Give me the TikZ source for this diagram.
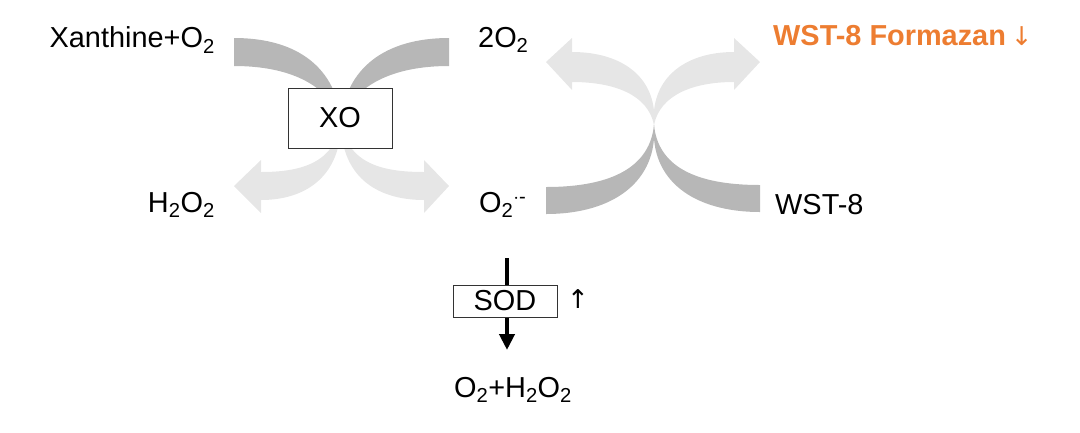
\documentclass[tikz,border=0pt]{standalone}
\usepackage{fontspec}
\setmainfont{Liberation Sans}
\newfontfamily\djv{DejaVu Sans}
\usetikzlibrary{arrows.meta}
\definecolor{dk}{HTML}{B7B7B7}
\definecolor{lt}{HTML}{E6E6E6}
\definecolor{org}{HTML}{ED7D31}
\begin{document}
\begin{tikzpicture}[x=1bp,y=-1bp,
  lbl/.style={font=\fontsize{29}{32}\selectfont,inner sep=0pt},
  box/.style={draw=black!80,fill=white,line width=0.8pt,minimum width=104bp,minimum height=60bp,inner sep=0pt,font=\fontsize{29}{32}\selectfont}]
\useasboundingbox (0,0) rectangle (1080,432);
% left X
\coordinate (c1) at (341,120);
\fill[dk] (234,38) .. controls (300,38) and (336,70) .. (c1) .. controls (328,85) and (290,66) .. (234,66) -- cycle;
\fill[dk] (449,38) .. controls (383,38) and (346,70) .. (c1) .. controls (355,85) and (393,66) .. (449,66) -- cycle;
\fill[lt] (c1) .. controls (346,165) and (385,172) .. (424,172) -- (424,160) -- (449,186) -- (424,213) -- (424,200) .. controls (375,200) and (340,175) .. (c1) -- cycle;
\fill[lt] (c1) .. controls (336,165) and (297,172) .. (261,172) -- (261,160) -- (234,186) -- (261,213) -- (261,200) .. controls (307,200) and (342,175) .. (c1) -- cycle;
\node[box] (xo) at (340,118) {XO};
% right X
\coordinate (c2) at (654,125);
\fill[dk] (546,187) .. controls (615,187) and (650,165) .. (c2) .. controls (658,180) and (615,214) .. (546,214) -- cycle;
\fill[dk] (760,185) .. controls (693,185) and (658,165) .. (c2) .. controls (650,180) and (693,212) .. (760,212) -- cycle;
\fill[lt] (c2) .. controls (648,95) and (615,82) .. (572,82) -- (572,90) -- (546,62) -- (572,38) -- (572,52) .. controls (625,52) and (658,80) .. (c2) -- cycle;
\fill[lt] (c2) .. controls (660,95) and (693,82) .. (734,82) -- (734,90) -- (760,62) -- (734,38) -- (734,52) .. controls (683,52) and (650,80) .. (c2) -- cycle;
% labels
\node[lbl,anchor=east] (xan) at (215,40) {Xanthine+O\textsubscript{2}};
\node[lbl,anchor=west] (o2a) at (478,40) {2O\textsubscript{2}};
\node[lbl,anchor=west,text=org] (wf) at (773,36) {\textbf{WST-8 Formazan}\,{\djv\fontsize{26}{28}\selectfont ↓}};
\node[lbl,anchor=east] (h2o2) at (215,205) {H\textsubscript{2}O\textsubscript{2}};
\node[lbl,anchor=west] (sup) at (479,205) {O\textsubscript{2}\textsuperscript{$\cdot$-}};
\node[lbl,anchor=west] (wst) at (775,205) {WST-8};
\node[lbl] (prod) at (513,390) {O\textsubscript{2}+H\textsubscript{2}O\textsubscript{2}};
% SOD
\coordinate (s1) at (507,258);
\coordinate (s2) at (507,350);
\draw[line width=4.5pt,-{Triangle[length=16bp,width=15bp]}] (s1) -- (s2);
\node[box,minimum width=104bp,minimum height=32bp] (sod) at (505,301) {SOD};
\node[lbl] (up) at (578,299) {{\djv\fontsize{26}{28}\selectfont ↑}};
\end{tikzpicture}
\end{document}
